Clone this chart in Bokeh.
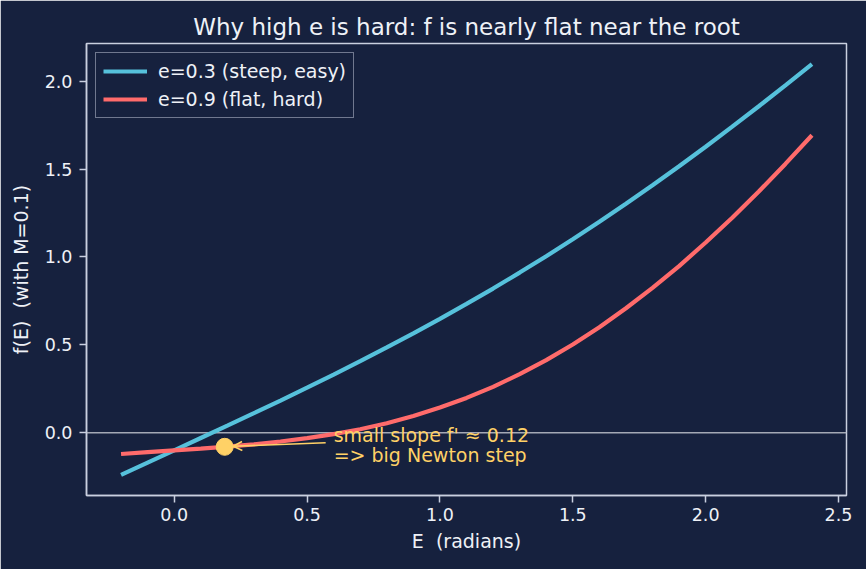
from bokeh.plotting import figure
from bokeh.models import (Range1d, FixedTicker, Span, Label, Arrow, OpenHead,
                          Legend, LegendItem)
from bokeh.embed import file_html
from bokeh.resources import INLINE

# Kepler residual f(E) = E - e*sin(E) - M, sampled for M = 0.1
E_vals = [-0.2, -0.1, 0.0, 0.1, 0.2, 0.3, 0.4, 0.5, 0.6, 0.7, 0.8, 0.9, 1.0,
          1.1, 1.2, 1.3, 1.4, 1.5, 1.6, 1.7, 1.8, 1.9, 2.0, 2.1, 2.2, 2.3, 2.4]
f_easy = [-0.240, -0.170, -0.100, -0.030, 0.040, 0.111, 0.183, 0.256, 0.331,
          0.407, 0.485, 0.565, 0.648, 0.733, 0.820, 0.911, 1.004, 1.101,
          1.200, 1.303, 1.408, 1.516, 1.627, 1.741, 1.857, 1.976, 2.097]
f_hard = [-0.121, -0.110, -0.100, -0.090, -0.079, -0.066, -0.050, -0.031,
          -0.008, 0.020, 0.054, 0.095, 0.143, 0.198, 0.261, 0.333, 0.413,
          0.502, 0.600, 0.708, 0.824, 0.948, 1.082, 1.223, 1.372, 1.529, 1.692]

# highlighted point on the flat curve
pt_E = [0.19]
pt_f = [-0.080]

x_ticks = [0.0, 0.5, 1.0, 1.5, 2.0, 2.5]
y_ticks = [0.0, 0.5, 1.0, 1.5, 2.0]

BG = "#16213e"
FG = "#eef1f7"
SPINE = "#c9d0e0"
CYAN = "#56c1db"
RED = "#ff6b6b"
YELLOW = "#ffd166"
FONT = "DejaVu Sans"

p = figure(width=866, height=569, output_backend="svg", toolbar_location=None,
           x_range=Range1d(-0.33, 2.53), y_range=Range1d(-0.357, 2.214),
           min_border_left=86, min_border_right=20, min_border_top=43,
           min_border_bottom=74,
           title="Why high e is hard: f is nearly flat near the root")

p.background_fill_color = BG
p.border_fill_color = BG
p.outline_line_color = SPINE
p.outline_line_width = 1.5
p.grid.visible = False

p.title.align = "center"
p.title.text_color = FG
p.title.text_font = FONT
p.title.text_font_size = "23px"
p.title.text_font_style = "normal"
p.title.offset = 0
p.title.standoff = 8

for ax in (p.xaxis[0], p.yaxis[0]):
    ax.axis_line_color = SPINE
    ax.axis_line_width = 1.5
    ax.major_tick_line_color = SPINE
    ax.major_tick_line_width = 1.5
    ax.major_tick_out = 7
    ax.major_tick_in = 0
    ax.minor_tick_line_color = None
    ax.major_label_text_color = FG
    ax.major_label_text_font = FONT
    ax.major_label_text_font_size = "17.5px"
    ax.axis_label_text_color = FG
    ax.axis_label_text_font = FONT
    ax.axis_label_text_font_size = "19px"
    ax.axis_label_text_font_style = "normal"

p.xaxis.ticker = FixedTicker(ticks=x_ticks)
p.yaxis.ticker = FixedTicker(ticks=y_ticks)
p.xaxis.major_label_overrides = {t: f"{t:.1f}" for t in x_ticks}
p.yaxis.major_label_overrides = {t: f"{t:.1f}" for t in y_ticks}
p.xaxis.axis_label = "E\u00a0 (radians)"
p.yaxis.axis_label = "f(E)\u00a0 (with M=0.1)"
p.xaxis.major_label_standoff = 5
p.xaxis.axis_label_standoff = 6
p.yaxis.major_label_standoff = 7
p.yaxis.axis_label_standoff = 10

# zero reference line
p.add_layout(Span(location=0, dimension="width", line_color="#b4b8c2",
                  line_width=1.3, line_alpha=0.9, level="underlay"))

r_easy = p.line(E_vals, f_easy, line_color=CYAN, line_width=4.2)
r_hard = p.line(E_vals, f_hard, line_color=RED, line_width=4.2)

p.scatter(pt_E, pt_f, size=17, marker="circle", fill_color=YELLOW,
          line_color=YELLOW)

p.add_layout(Arrow(end=OpenHead(size=9, line_color=YELLOW, line_width=1.6),
                   x_start=0.57, y_start=-0.057, x_end=0.222, y_end=-0.077,
                   line_color=YELLOW, line_width=1.6))

for txt, yy in (("small slope f' \u2248 0.12", -0.011),
                ("=> big Newton step", -0.125)):
    p.add_layout(Label(x=0.6, y=yy, text=txt, text_color=YELLOW,
                       text_font=FONT, text_font_size="19px",
                       text_baseline="alphabetic"))

legend = Legend(items=[
    LegendItem(label="e=0.3 (steep, easy)", renderers=[r_easy]),
    LegendItem(label="e=0.9 (flat, hard)", renderers=[r_hard]),
], location="top_left")
legend.background_fill_color = BG
legend.background_fill_alpha = 0.85
legend.border_line_color = SPINE
legend.border_line_width = 1.5
legend.label_text_color = FG
legend.label_text_font = FONT
legend.label_text_font_size = "19px"
legend.glyph_width = 44
legend.glyph_height = 20
legend.label_height = 20
legend.label_standoff = 11
legend.spacing = 6
legend.padding = 7
legend.margin = 9
p.add_layout(legend)

open("out.html", "w").write(file_html(p, INLINE))
